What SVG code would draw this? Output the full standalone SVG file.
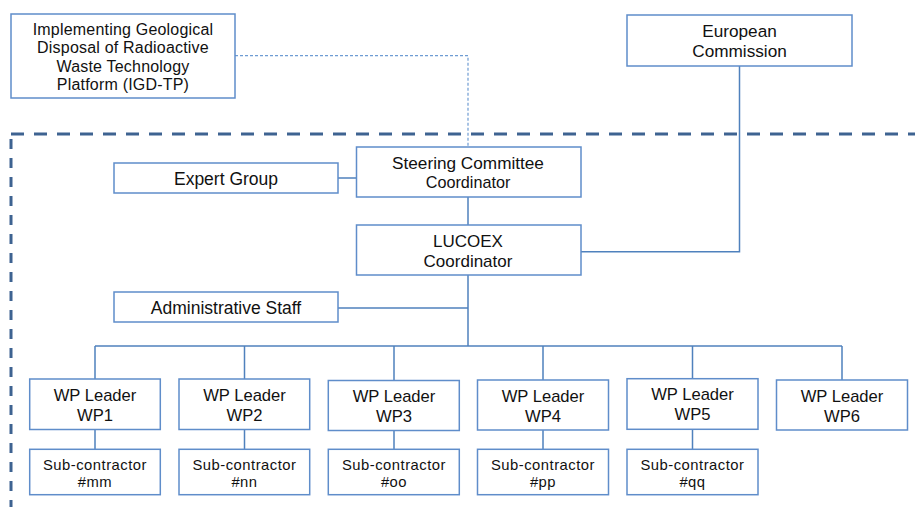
<svg xmlns="http://www.w3.org/2000/svg" width="915" height="507" viewBox="0 0 915 507">
<style>
.box{fill:#ffffff;stroke:#5F8DCA;stroke-width:1.5}
.t{font-family:"Liberation Sans",Arial,sans-serif;fill:#111111;text-anchor:middle}
.igd{font-size:16px;letter-spacing:0.2px}
.ec{font-size:17.2px}
.l{font-size:17.5px}
.sc{font-size:17.2px}
.sc2{font-size:16.2px}
.lu{font-size:17px}
.wp{font-size:16.6px}
.s{font-size:14.8px;letter-spacing:0.5px}
.c{fill:none;stroke:#4F81BD;stroke-width:1.5}
.d{fill:none;stroke:#6E9CD3;stroke-width:1.2;stroke-dasharray:3 2}
.b{fill:none;stroke:#3E6391;stroke-width:3}
</style>
<rect width="915" height="507" fill="#ffffff"/>
<g id="boundary">
<path class="b" d="M11 134 H915" stroke-dasharray="13 10"/>
<path class="b" d="M11 134 V507" stroke-dasharray="10 9" stroke-dashoffset="-5"/>
</g>
<g id="connectors">
<path class="d" d="M235 55.7 H468 V147"/>
<path class="c" d="M739.5 66 V251.7 H581"/>
<path class="c" d="M338 178 H356"/>
<path class="c" d="M468 197 V225"/>
<path class="c" d="M468 275 V346"/>
<path class="c" d="M338 308 H468"/>
<path class="c" d="M95 346 H842"/>
<path class="c" d="M95 346 V379 M244.5 346 V379 M394 346 V380.5 M543 346 V380 M692.5 346 V378.7 M842 346 V380"/>
<path class="c" d="M95 429.5 V449.3 M244.5 429.5 V449.3 M394 430.5 V449.3 M543 430 V449.3 M692.5 429.3 V449.3"/>
</g>
<g id="igdtp">
<rect class="box" x="11" y="14" width="224" height="84"/>
<text class="t igd" x="123" y="34.5">Implementing Geological</text>
<text class="t igd" x="123" y="53">Disposal of Radioactive</text>
<text class="t igd" x="123" y="71.5">Waste Technology</text>
<text class="t igd" x="123" y="90">Platform (IGD-TP)</text>
</g>
<g id="european-commission">
<rect class="box" x="627" y="15" width="225" height="51"/>
<text class="t ec" x="739.5" y="37">European</text>
<text class="t ec" x="739.5" y="57">Commission</text>
</g>
<g id="expert-group">
<rect class="box" x="114" y="163" width="224" height="30"/>
<text class="t l" x="226" y="184.5">Expert Group</text>
</g>
<g id="steering-committee">
<rect class="box" x="356.5" y="147" width="224.5" height="50"/>
<text class="t sc" x="468" y="169">Steering Committee</text>
<text class="t sc2" x="468" y="188">Coordinator</text>
</g>
<g id="lucoex">
<rect class="box" x="356.5" y="225" width="224.5" height="50"/>
<text class="t lu" x="468" y="247">LUCOEX</text>
<text class="t lu" x="468" y="267">Coordinator</text>
</g>
<g id="admin-staff">
<rect class="box" x="114" y="292" width="224" height="30"/>
<text class="t l" x="226" y="313.5">Administrative Staff</text>
</g>
<g id="wp1">
<rect class="box" x="29.7" y="379" width="130.6" height="50.5"/>
<text class="t wp" x="95" y="400.5">WP Leader</text>
<text class="t wp" x="95" y="420.5">WP1</text>
</g>
<g id="wp2">
<rect class="box" x="179" y="379" width="130.7" height="50.5"/>
<text class="t wp" x="244.5" y="400.5">WP Leader</text>
<text class="t wp" x="244.5" y="420.5">WP2</text>
</g>
<g id="wp3">
<rect class="box" x="328.3" y="380.5" width="131" height="50"/>
<text class="t wp" x="394" y="401.5">WP Leader</text>
<text class="t wp" x="394" y="421.5">WP3</text>
</g>
<g id="wp4">
<rect class="box" x="477.5" y="380" width="131" height="50"/>
<text class="t wp" x="543" y="401.5">WP Leader</text>
<text class="t wp" x="543" y="421.5">WP4</text>
</g>
<g id="wp5">
<rect class="box" x="627" y="378.7" width="131" height="50.6"/>
<text class="t wp" x="692.5" y="400">WP Leader</text>
<text class="t wp" x="692.5" y="420">WP5</text>
</g>
<g id="wp6">
<rect class="box" x="776.5" y="380" width="131" height="50"/>
<text class="t wp" x="842" y="401.5">WP Leader</text>
<text class="t wp" x="842" y="421.5">WP6</text>
</g>
<g id="sub-mm">
<rect class="box" x="29.7" y="449.3" width="130.6" height="45.4"/>
<text class="t s" x="95" y="470">Sub-contractor</text>
<text class="t s" x="95" y="486.7">#mm</text>
</g>
<g id="sub-nn">
<rect class="box" x="179" y="449.3" width="130.7" height="45.4"/>
<text class="t s" x="244.5" y="470">Sub-contractor</text>
<text class="t s" x="244.5" y="486.7">#nn</text>
</g>
<g id="sub-oo">
<rect class="box" x="328.3" y="449.3" width="131" height="45.4"/>
<text class="t s" x="394" y="470">Sub-contractor</text>
<text class="t s" x="394" y="486.7">#oo</text>
</g>
<g id="sub-pp">
<rect class="box" x="477.5" y="449.3" width="131" height="45.4"/>
<text class="t s" x="543" y="470">Sub-contractor</text>
<text class="t s" x="543" y="486.7">#pp</text>
</g>
<g id="sub-qq">
<rect class="box" x="627" y="449.3" width="131" height="45.4"/>
<text class="t s" x="692.5" y="470">Sub-contractor</text>
<text class="t s" x="692.5" y="486.7">#qq</text>
</g>
</svg>
